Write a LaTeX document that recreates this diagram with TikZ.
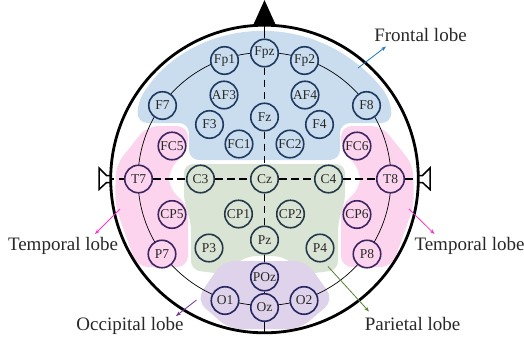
\documentclass[tikz,border=0pt]{standalone}
\usepackage{fontspec}
\setmainfont{Liberation Serif}
\usetikzlibrary{arrows.meta}
\definecolor{frontfill}{RGB}{201,221,239}
\definecolor{frontdraw}{RGB}{31,58,96}
\definecolor{tempfill}{RGB}{252,212,238}
\definecolor{tempdraw}{RGB}{62,38,98}
\definecolor{parfill}{RGB}{218,228,212}
\definecolor{pardraw}{RGB}{36,58,74}
\definecolor{occfill}{RGB}{222,211,235}
\definecolor{occdraw}{RGB}{38,38,96}
\definecolor{txt}{RGB}{40,40,40}
\definecolor{arrfront}{RGB}{26,120,194}
\definecolor{arrtemp}{RGB}{250,50,200}
\definecolor{arrocc}{RGB}{112,48,160}
\definecolor{arrpar}{RGB}{84,130,53}
\pgfdeclarelayer{regions}
\pgfdeclarelayer{lines}
\pgfsetlayers{regions,lines,main}
\tikzset{
  el/.style={circle, minimum size=27.5pt, inner sep=0pt, line width=1.6pt, text=txt,
    font=\fontsize{13.5}{15}\selectfont},
  fr/.style={el, draw=frontdraw, fill=frontfill},
  tp/.style={el, draw=tempdraw, fill=tempfill},
  pa/.style={el, draw=pardraw, fill=parfill},
  oc/.style={el, draw=occdraw, fill=occfill},
  lobelabel/.style={font=\fontsize{19}{22}\selectfont, text=txt, anchor=base, inner sep=0pt},
  pointer/.style={-{Stealth[length=5pt,width=3.6pt]}, line width=0.8pt},
  midline/.style={line width=1.8pt, dash pattern=on 7.5pt off 4.5pt},
  solidline/.style={line width=1.8pt},
  ring/.style={line width=0.7pt},
  ear/.style={line width=1.5pt, fill=white, line join=miter},
}
\begin{document}
\begin{tikzpicture}[x=1pt,y=-1pt]
\useasboundingbox (0,0) rectangle (524,343);

% ---------- regions ----------
\begin{pgfonlayer}{regions}
\fill[frontfill, rounded corners=10pt] (137.5,123) -- (137.5,103)
  arc[start angle=211, end angle=329, radius=148] -- (391.5,123) -- (340,123)
  -- (340,160) -- (189,160) -- (189,123) -- cycle;
\fill[parfill, rounded corners=9pt] (184,164) -- (345,164) -- (345,202) -- (338,222)
  -- (338,270) -- (307,274) -- (282,256) -- (247,256) -- (222,274) -- (191,270)
  -- (191,222) -- (184,202) -- cycle;
\fill[tempfill, rounded corners=11pt] (115,205) -- (116,165) -- (147,126) -- (188,126)
  -- (188,150) -- (169,169) -- (169,189) -- (188,205) -- (188,267) -- (137,267) -- cycle;
\fill[tempfill, rounded corners=11pt] (414,205) -- (413,165) -- (382,126) -- (341,126)
  -- (341,150) -- (360,169) -- (360,189) -- (341,205) -- (341,267) -- (392,267) -- cycle;
\fill[occfill, rounded corners=12pt] (196,300) -- (223,261) -- (306,261) -- (334,300)
  -- (300,329) -- (229,329) -- cycle;
\end{pgfonlayer}

% ---------- head ----------
\coordinate (ctr) at (264.5,179);
\coordinate (headTop) at (264.5,25);
\coordinate (headBot) at (264.5,333);
\coordinate (earL) at (106.5,179);
\coordinate (earR) at (422.5,179);
\fill (253,25.5) -- (264.5,0) -- (276,25.5) -- cycle;
\draw[ear] (111.5,175.5) -- (106.5,175.5) -- (99,168) -- (99,189.5) -- (106.5,182.5) -- (111.5,182.5);
\draw[ear] (417.5,175.5) -- (422.5,175.5) -- (430,168) -- (430,189.5) -- (422.5,182.5) -- (417.5,182.5);
\draw[line width=2.8pt] (ctr) circle[radius=153.8];

% ---------- electrodes ----------
\node[fr] (Fpz) at (264.5,53) {Fpz};
\node[fr] (Fp1) at (224.5,60.5) {Fp1};
\node[fr] (Fp2) at (304.5,60.5) {Fp2};
\node[fr] (AF3) at (224,95) {AF3};
\node[fr] (AF4) at (305,95) {AF4};
\node[fr] (F7) at (162.5,105.5) {F7};
\node[fr] (F8) at (366.5,105.5) {F8};
\node[fr] (Fz) at (264.5,117) {Fz};
\node[fr] (F3) at (209.5,124.5) {F3};
\node[fr] (F4) at (319.5,124.5) {F4};
\node[fr] (FC1) at (239,144) {FC1};
\node[fr] (FC2) at (290,144) {FC2};
\node[tp] (FC5) at (172,146) {FC5};
\node[tp] (FC6) at (357,146) {FC6};
\node[tp] (T7) at (138.5,179) {T7};
\node[pa] (C3) at (200.5,179) {C3};
\node[pa] (Cz) at (264.5,179) {Cz};
\node[pa] (C4) at (328.5,179) {C4};
\node[tp] (T8) at (390.5,179) {T8};
\node[tp] (CP5) at (172,214.5) {CP5};
\node[pa] (CP1) at (238.5,214) {CP1};
\node[pa] (CP2) at (290.5,214) {CP2};
\node[tp] (CP6) at (357,214.5) {CP6};
\node[tp] (P7) at (162,254) {P7};
\node[pa] (P3) at (209,248) {P3};
\node[pa] (Pz) at (264.5,240) {Pz};
\node[pa] (P4) at (320,248) {P4};
\node[tp] (P8) at (367,254) {P8};
\node[oc] (POz) at (264.5,277) {POz};
\node[oc] (O1) at (225,300.5) {O1};
\node[oc] (Oz) at (264.5,307.5) {Oz};
\node[oc] (O2) at (304,300.5) {O2};

% ---------- connectors ----------
\begin{pgfonlayer}{lines}
\draw[ring] (ctr) circle[radius=126.5];
\draw[midline] (earL) -- (T7) -- (C3) -- (Cz) -- (C4) -- (T8) -- (earR);
\draw[solidline] (headTop) -- (Fpz);
\draw[midline] (Fpz) -- (Fz) -- (Cz) -- (Pz);
\draw[solidline] (Pz) -- (POz) -- (Oz) -- (headBot);
\end{pgfonlayer}

% ---------- labels ----------
\node[lobelabel] (lFront) at (420.5,41.7) {Frontal lobe};
\node[lobelabel] (lTempL) at (63,250.7) {Temporal lobe};
\node[lobelabel] (lTempR) at (469.5,250.7) {Temporal lobe};
\node[lobelabel] (lOcc) at (130,330) {Occipital lobe};
\node[lobelabel] (lPar) at (412.5,330) {Parietal lobe};

\coordinate (aF1) at (358,68);   \coordinate (aF2) at (386,46.5);
\coordinate (aTL1) at (120,209); \coordinate (aTL2) at (95,234);
\coordinate (aTR1) at (409,209); \coordinate (aTR2) at (434.5,234);
\coordinate (aO1) at (196.5,300); \coordinate (aO2) at (176,316);
\coordinate (aP1) at (328,266.5); \coordinate (aP2) at (369,311.5);
\draw[pointer, arrfront] (aF1) -- (aF2);
\draw[pointer, arrtemp] (aTL1) -- (aTL2);
\draw[pointer, arrtemp] (aTR1) -- (aTR2);
\draw[pointer, arrocc] (aO1) -- (aO2);
\draw[pointer, arrpar] (aP1) -- (aP2);
\end{tikzpicture}
\end{document}
